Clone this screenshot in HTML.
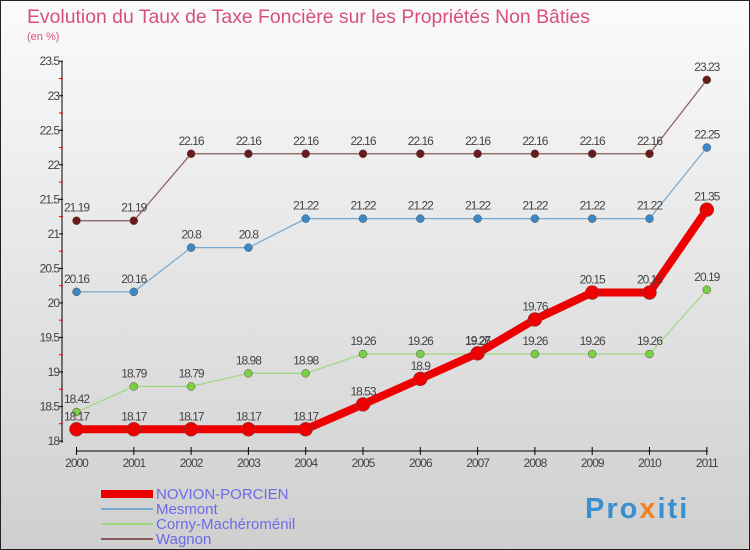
<!DOCTYPE html>
<html><head><meta charset="utf-8"><style>
body{margin:0}
#c{position:relative;width:750px;height:550px;background:linear-gradient(#fbfbfb,#cfcfcf);border:1px solid #222;box-sizing:border-box;overflow:hidden;font-family:"Liberation Sans",sans-serif}
</style></head><body>
<div id="c">
<svg id="s" width="750" height="550">
<text x="26" y="22" font-size="19.4" fill="#d8507a">Evolution du Taux de Taxe Foncière sur les Propriétés Non Bâties</text>
<text x="26" y="39" font-size="11" fill="#d8507a">(en %)</text>
<g id="g"></g>
<g>
<rect x="100" y="489" width="52" height="8" fill="#e00"/>
<text x="155" y="498" font-size="15" fill="#6b6be8">NOVION-PORCIEN</text>
<rect x="100" y="507" width="52" height="2" fill="#7aa8cc"/>
<text x="155" y="513" font-size="15" fill="#6b6be8">Mesmont</text>
<rect x="100" y="522" width="52" height="2" fill="#9fd87a"/>
<text x="155" y="528" font-size="15" fill="#6b6be8">Corny-Machéroménil</text>
<rect x="100" y="537" width="52" height="2" fill="#8a5a5a"/>
<text x="155" y="543" font-size="15" fill="#6b6be8">Wagnon</text>
</g>
<text x="584" y="517" font-size="29" font-weight="bold" letter-spacing="2" fill="#3a8fd0">Pro<tspan fill="#f08020">x</tspan>iti</text>
</svg>
</div>
<script>
const years=[2000,2001,2002,2003,2004,2005,2006,2007,2008,2009,2010,2011];
const yTicks=[18,18.5,19,19.5,20,20.5,21,21.5,22,22.5,23,23.5];
const novion=[18.17,18.17,18.17,18.17,18.17,18.53,18.9,19.27,19.76,20.15,20.15,21.35];
const mesmont=[20.16,20.16,20.8,20.8,21.22,21.22,21.22,21.22,21.22,21.22,21.22,22.25];
const corny=[18.42,18.79,18.79,18.98,18.98,19.26,19.26,19.26,19.26,19.26,19.26,20.19];
const wagnon=[21.19,21.19,22.16,22.16,22.16,22.16,22.16,22.16,22.16,22.16,22.16,23.23];
const X=i=>75.5+i*57.3, Y=v=>440-(v-18)*69.05;
const g=document.getElementById('g'),NS='http://www.w3.org/2000/svg';
function mk(t,a){const e=document.createElementNS(NS,t);for(const k in a)e.setAttribute(k,a[k]);g.appendChild(e);return e;}
let e=mk('line',{x1:61,y1:60,x2:61,y2:442,stroke:'#000'});


e=mk('line',{x1:75,y1:450,x2:707,y2:450,stroke:'#000'});


yTicks.forEach(v=>{
 let t=mk('line',{x1:58,y1:Y(v),x2:62,y2:Y(v),stroke:'#000'});
 
 
 if(v<23.5){let m=mk('line',{x1:58,y1:Y(v+0.25),x2:62,y2:Y(v+0.25),stroke:'#e00'});
 
 }
 let l=mk('text',{x:58,y:Y(v)+4,'text-anchor':'end','font-size':12,fill:'#444','letter-spacing':'-1'});
 l.textContent=v;
 
 
});
years.forEach((yr,i)=>{
 let t=mk('line',{x1:X(i),y1:446,x2:X(i),y2:454,stroke:'#000'});
 
 
 let l=mk('text',{x:X(i),y:466,'text-anchor':'middle','font-size':12,fill:'#444','letter-spacing':'-1'});
 l.textContent=yr;
 
 
});
function series(d,col,dot,w,r,name){
 let p=mk('polyline',{points:d.map((v,i)=>X(i)+','+Y(v)).join(' '),fill:'none',stroke:col,'stroke-width':w});
 
 
 d.forEach((v,i)=>{
  let c=mk('circle',{cx:X(i),cy:Y(v),r:r,fill:dot,stroke:'#555','stroke-width':0.5});
  
  
  let l=mk('text',{x:X(i),y:Y(v)-9,'text-anchor':'middle','font-size':12,fill:'#444','letter-spacing':'-1'});
  l.textContent=v;
  
  
 });
}
series(wagnon,'#8a5a5a','#6a1a1a',1.2,4,'wagnon');
series(mesmont,'#7aa8cc','#3a88c8',1.2,4,'mesmont');
series(corny,'#9fd87a','#7ad040',1.2,4,'corny');
series(novion,'#e00','#e00',8,7,'novion');
</script>
</body></html>
